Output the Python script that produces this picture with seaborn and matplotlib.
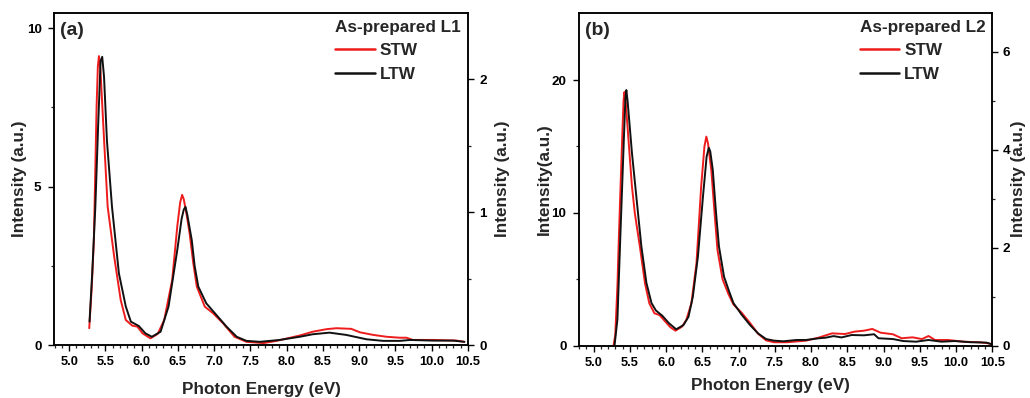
import numpy as np
import pandas as pd
import matplotlib
matplotlib.use("Agg")
import matplotlib.pyplot as plt
import seaborn as sns

sns.set_style("ticks")
plt.rcParams['font.family'] = ['Liberation Sans', 'DejaVu Sans']
plt.rcParams['font.weight'] = 'bold'
plt.rcParams['axes.labelweight'] = 'bold'

# ---------------- Panel (a): As-prepared L1 ----------------
a_stw_e = [5.276, 5.31, 5.34, 5.377, 5.395, 5.41, 5.43, 5.48, 5.53, 5.62, 5.71, 5.78,
           5.87, 5.94, 6.01, 6.12, 6.22, 6.31, 6.42, 6.49, 6.53, 6.557, 6.58, 6.62,
           6.66, 6.71, 6.76, 6.87, 6.985, 7.12, 7.28, 7.445, 7.68, 7.86, 8.18, 8.36,
           8.55, 8.685, 8.89, 9.01, 9.19, 9.375, 9.56, 9.65, 9.74, 10.02, 10.34, 10.45]
a_stw_i = [0.53, 1.8, 3.3, 7.5, 8.8, 9.12, 8.7, 6.5, 4.37, 2.79, 1.42, 0.79,
           0.61, 0.58, 0.37, 0.21, 0.35, 0.79, 2.05, 3.74, 4.5, 4.74, 4.6, 4.1,
           3.53, 2.6, 1.84, 1.21, 1.0, 0.69, 0.26, 0.10, 0.06, 0.13, 0.30, 0.42,
           0.50, 0.53, 0.51, 0.40, 0.32, 0.26, 0.23, 0.23, 0.16, 0.16, 0.14, 0.10]
# LTW read on the right-hand axis
a_ltw_e = [5.28, 5.317, 5.36, 5.40, 5.433, 5.455, 5.48, 5.52, 5.59, 5.685, 5.78, 5.85,
           5.96, 6.05, 6.14, 6.26, 6.37, 6.49, 6.55, 6.58, 6.604, 6.63, 6.69, 6.73,
           6.78, 6.89, 7.03, 7.17, 7.31, 7.445, 7.63, 7.9, 8.18, 8.36, 8.59, 8.82,
           9.1, 9.33, 9.56, 9.70, 10.02, 10.3, 10.45]
a_ltw_i = [0.176, 0.54, 1.04, 1.67, 2.14, 2.17, 2.02, 1.54, 1.04, 0.54, 0.29, 0.176,
           0.143, 0.088, 0.062, 0.10, 0.29, 0.714, 0.95, 1.02, 1.04, 0.976, 0.79, 0.595,
           0.44, 0.314, 0.226, 0.138, 0.062, 0.031, 0.024, 0.038, 0.062, 0.081, 0.093,
           0.076, 0.043, 0.031, 0.031, 0.038, 0.033, 0.033, 0.024]

# ---------------- Panel (b): As-prepared L2 ----------------
b_stw_e = [5.276, 5.30, 5.33, 5.35, 5.396, 5.415, 5.427, 5.445, 5.48, 5.53, 5.57, 5.64,
           5.71, 5.77, 5.84, 5.91, 5.97, 6.06, 6.13, 6.22, 6.28, 6.35, 6.42, 6.485,
           6.53, 6.556, 6.58, 6.625, 6.67, 6.71, 6.78, 6.86, 6.93, 7.04, 7.16, 7.27,
           7.38, 7.49, 7.67, 7.93, 8.1, 8.29, 8.47, 8.6, 8.73, 8.845, 8.96, 9.13, 9.25,
           9.4, 9.53, 9.62, 9.71, 9.89, 10.11, 10.33, 10.44, 10.5]
b_stw_i = [0.0, 0.8, 4.5, 8.2, 15.7, 18.5, 19.1, 18.3, 15.7, 12.0, 9.97, 7.45,
           4.7, 3.19, 2.44, 2.31, 1.94, 1.39, 1.13, 1.43, 1.94, 3.19, 6.2, 12.0,
           15.0, 15.74, 15.2, 13.2, 9.97, 7.2, 5.0, 3.9, 3.1, 2.5, 1.7, 0.9,
           0.4, 0.26, 0.26, 0.38, 0.6, 0.93, 0.88, 1.06, 1.13, 1.26, 0.98, 0.86, 0.56,
           0.63, 0.5, 0.73, 0.43, 0.43, 0.3, 0.26, 0.18, 0.1]
# LTW read on the right-hand axis
b_ltw_e = [5.29, 5.33, 5.37, 5.42, 5.44, 5.453, 5.47, 5.53, 5.60, 5.66, 5.73, 5.80,
           5.86, 5.95, 6.04, 6.14, 6.24, 6.31, 6.37, 6.44, 6.51, 6.56, 6.59, 6.61,
           6.645, 6.69, 6.73, 6.80, 6.87, 6.93, 7.045, 7.16, 7.27, 7.38, 7.49, 7.62,
           7.8, 7.93, 8.11, 8.2, 8.31, 8.42, 8.56, 8.73, 8.87, 8.93, 9.13, 9.27, 9.45,
           9.62, 9.8, 9.98, 10.2, 10.42, 10.5]
b_ltw_i = [0.0, 0.54, 2.23, 4.27, 5.06, 5.22, 5.0, 3.94, 2.91, 2.03, 1.28, 0.87,
           0.72, 0.61, 0.46, 0.335, 0.42, 0.59, 1.0, 1.82, 3.05, 3.86, 4.04, 3.97,
           3.59, 2.71, 2.03, 1.41, 1.11, 0.87, 0.63, 0.42, 0.25, 0.136, 0.103, 0.09,
           0.117, 0.117, 0.152, 0.163, 0.196, 0.169, 0.218, 0.212, 0.234, 0.152, 0.136,
           0.095, 0.082, 0.117, 0.082, 0.095, 0.071, 0.063, 0.027]

x_ticks = [5.0, 5.5, 6.0, 6.5, 7.0, 7.5, 8.0, 8.5, 9.0, 9.5, 10.0, 10.5]
labels = ["STW", "LTW"]
RED = "#ee1c1c"
BLACK = "#111111"
W, H = 1030, 398

fig = plt.figure(figsize=(W / 100, H / 100), dpi=100)


def make_panel(rect, stw_e, stw_i, ltw_e, ltw_i, xlim, ylim_l, yt_l, ymt_l,
               ylim_r, yt_r, ymt_r, tag, title, ylabel_left, xlabel_xy, rpad, rtpad):
    ax = fig.add_axes(rect)
    axr = ax.twinx()
    sns.lineplot(x=stw_e, y=stw_i, ax=ax, color=RED, lw=1.4, label=None)
    sns.lineplot(x=ltw_e, y=ltw_i, ax=axr, color=BLACK, lw=1.4, label=None)
    h_stw = ax.lines[-1]
    h_ltw = axr.lines[-1]
    ax.set_xlim(*xlim)
    ax.set_ylim(*ylim_l)
    axr.set_ylim(*ylim_r)
    ax.set_xticks(x_ticks)
    ax.set_xticks(np.arange(4.8, 10.51, 0.1), minor=True)
    ax.set_xticklabels([f"{v:.1f}" for v in x_ticks])
    ax.set_yticks(yt_l)
    ax.set_yticks(ymt_l, minor=True)
    axr.set_yticks(yt_r)
    axr.set_yticks(ymt_r, minor=True)
    for a in (ax, axr):
        for s in a.spines.values():
            s.set_linewidth(1.1)
            s.set_color("black")
            s.set_visible(True)
        a.tick_params(which="major", length=4.5, width=1.0, direction="out",
                      colors="black")
        a.tick_params(which="minor", length=2.5, width=0.9, direction="out")
    ax.tick_params(axis="x", labelsize=9.3, pad=3.5)
    ax.tick_params(axis="y", labelsize=9.7, pad=4.5)
    axr.tick_params(axis="y", labelsize=9.7, pad=rtpad)
    ax.tick_params(axis="y", which="both", right=False)
    axr.tick_params(axis="y", which="both", left=False)
    for t in ax.get_xticklabels() + ax.get_yticklabels() + axr.get_yticklabels():
        t.set_fontweight("bold")
    ax.set_xlabel("Photon Energy (eV)", fontsize=12.3, fontweight="bold")
    ax.xaxis.set_label_coords(*xlabel_xy)
    ax.set_ylabel(ylabel_left, fontsize=12.3, fontweight="bold", labelpad=0)
    axr.set_ylabel("Intensity (a.u.)", fontsize=12.3, fontweight="bold", labelpad=rpad)
    ax.text(0.014, 0.972, tag, transform=ax.transAxes, ha="left", va="top",
            fontsize=14, fontweight="bold")
    leg = ax.legend([h_stw, h_ltw], labels, title=title, loc="upper right",
                    bbox_to_anchor=(1.0, 1.0), frameon=False, fontsize=12.3,
                    title_fontproperties={"weight": "bold", "size": 12.3},
                    handlelength=2.3, handletextpad=0.3, labelspacing=0.5,
                    borderpad=0.4, borderaxespad=0.0, alignment="left")
    for t in leg.get_texts():
        t.set_fontweight("bold")
    for ln in leg.get_lines():
        ln.set_linewidth(1.8)
    return ax, axr


make_panel([54 / W, 1 - 345 / H, 414 / W, 332 / H],
           a_stw_e, a_stw_i, a_ltw_e, a_ltw_i,
           (4.79, 10.5), (0, 10.48), [0, 5, 10], [2.5, 7.5],
           (0, 2.5), [0, 1, 2], [0.5, 1.5],
           "(a)", "As-prepared L1", "Intensity (a.u.)", (0.5, -0.112), 6, 3.5)

make_panel([579 / W, 1 - 345.7 / H, 413.3 / W, 333 / H],
           b_stw_e, b_stw_i, b_ltw_e, b_ltw_i,
           (4.99, 10.5), (0, 25.07), [0, 10, 20], [5, 15],
           (0, 6.8), [0, 2, 4, 6], [1, 3, 5],
           "(b)", "As-prepared L2", "Intensity(a.u.)", (0.462, -0.098), 0.5, 3.0)

fig.savefig("out.png", dpi=100)
